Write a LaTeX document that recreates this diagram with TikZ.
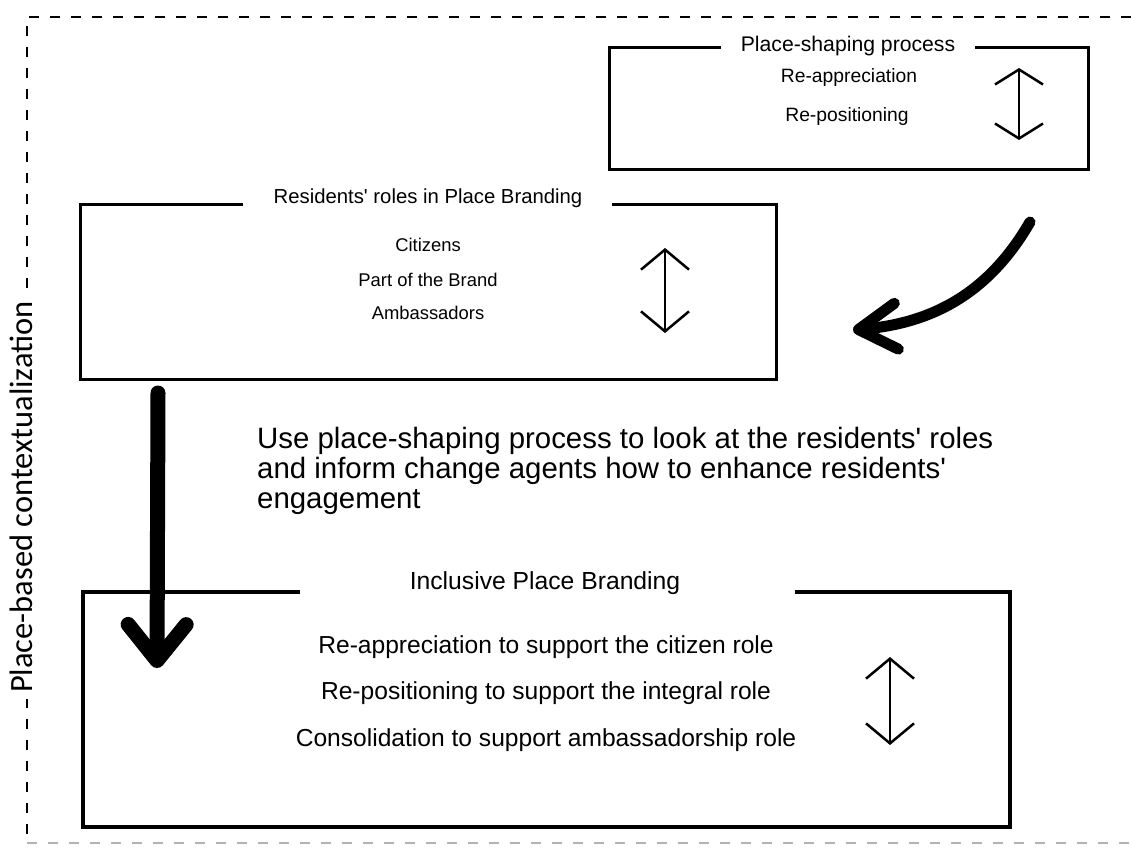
\documentclass[tikz,border=0pt]{standalone}
\usepackage{fontspec}
\setmainfont{Liberation Sans}
\newfontfamily\sidefont{Carlito}
\usepackage{tikz}
\usetikzlibrary{arrows.meta,positioning}
\newcommand\midfont{\fontsize{29.4}{30}\selectfont\lineskiplimit=-20pt\relax}
\newcommand\aps{\textquotesingle}
\tikzset{
  frm/.style={line width=2pt,dash pattern=on 10pt off 11pt},
  bx/.style={line width=3pt,line join=miter},
  ttl/.style={inner sep=0pt},
  itm/.style={inner sep=0pt},
  dbl/.style={{Straight Barb[length=#1,width=48pt]}-{Straight Barb[length=#1,width=48pt]},line width=2.5pt},
  brush/.style={line width=#1,line cap=round}
}

\begin{document}
\begin{tikzpicture}[x=1pt,y=-1pt]
\useasboundingbox (0,0) rectangle (1131,847);
% outer dashed frame
\draw[frm] (1131,17) -- (27,17) -- (27,843);
\draw[frm,black!30] (27,843) -- (1131,843);
\node[fill=white,inner xsep=6pt,inner ysep=0pt,rotate=90,font=\sidefont\fontsize{32.5}{36}\selectfont] (ctx) at (21,497) {Place-based contextualization};

% place-shaping process
\draw[bx] (721,47) -| (609,169) -| (1088,47) -- (975,47);
\node[ttl,font=\fontsize{21.2}{24}\selectfont] (shapeT) at (848,46) {Place-shaping process};
\node[itm,font=\fontsize{19.3}{22}\selectfont] (reapp) at (849,78) {Re-appreciation};
\node[itm,font=\fontsize{19.3}{22}\selectfont] (repos) at (847,117) {Re-positioning};
\coordinate (s1) at (1019,68); \coordinate (s2) at (1019,140);
\draw[dbl=15pt] (s1) -- (s2);

% residents' roles
\draw[bx] (243,204) -| (80,379) -| (776,204) -- (612,204);
\node[ttl,font=\fontsize{20.3}{24}\selectfont] (rolesT) at (428,198) {Residents\aps{} roles in Place Branding};
\node[itm,font=\fontsize{18.4}{22}\selectfont] (citz) at (428,245) {Citizens};
\node[itm,font=\fontsize{18.4}{22}\selectfont] (part) at (428,280) {Part of the Brand};
\node[itm,font=\fontsize{18.4}{22}\selectfont] (amb) at (428,313) {Ambassadors};
\coordinate (r1) at (665,248); \coordinate (r2) at (665,333);
\draw[dbl=20pt] (r1) -- (r2);

% middle statement
\node[anchor=north west,inner sep=0pt,align=left,font=\midfont] (use) at (257,427)
  {Use place-shaping process to look at the residents\aps{} roles\\and inform change agents how to enhance residents\aps\\engagement};

% inclusive place branding
\draw[bx,line width=3.5pt] (300,592) -| (83,827) -| (1010,592) -- (795,592);
\node[ttl,font=\fontsize{24.7}{28}\selectfont] (inclT) at (545,583) {Inclusive Place Branding};
\node[itm,font=\fontsize{24.6}{28}\selectfont] (cit) at (546,647) {Re-appreciation to support the citizen role};
\node[itm,font=\fontsize{24.6}{28}\selectfont] (intg) at (546,693) {Re-positioning to support the integral role};
\node[itm,font=\fontsize{24.6}{28}\selectfont] (ambs) at (546,740) {Consolidation to support ambassadorship role};
\coordinate (i1) at (890,657); \coordinate (i2) at (890,745);
\draw[dbl=20pt] (i1) -- (i2);

% brush arrows
\coordinate (cStart) at (1030,222); \coordinate (cTip) at (853,330);
\draw[brush=11pt,-{Straight Barb[round,length=38pt,width=46pt]}] (cStart) to[out=-120,in=5] (cTip);
\coordinate (dTop) at (158,393); \coordinate (dTip) at (157,668);
\draw[brush=15pt,-{Straight Barb[round,length=36pt,width=58pt]}] (dTop) -- (dTip);
\end{tikzpicture}
\end{document}
